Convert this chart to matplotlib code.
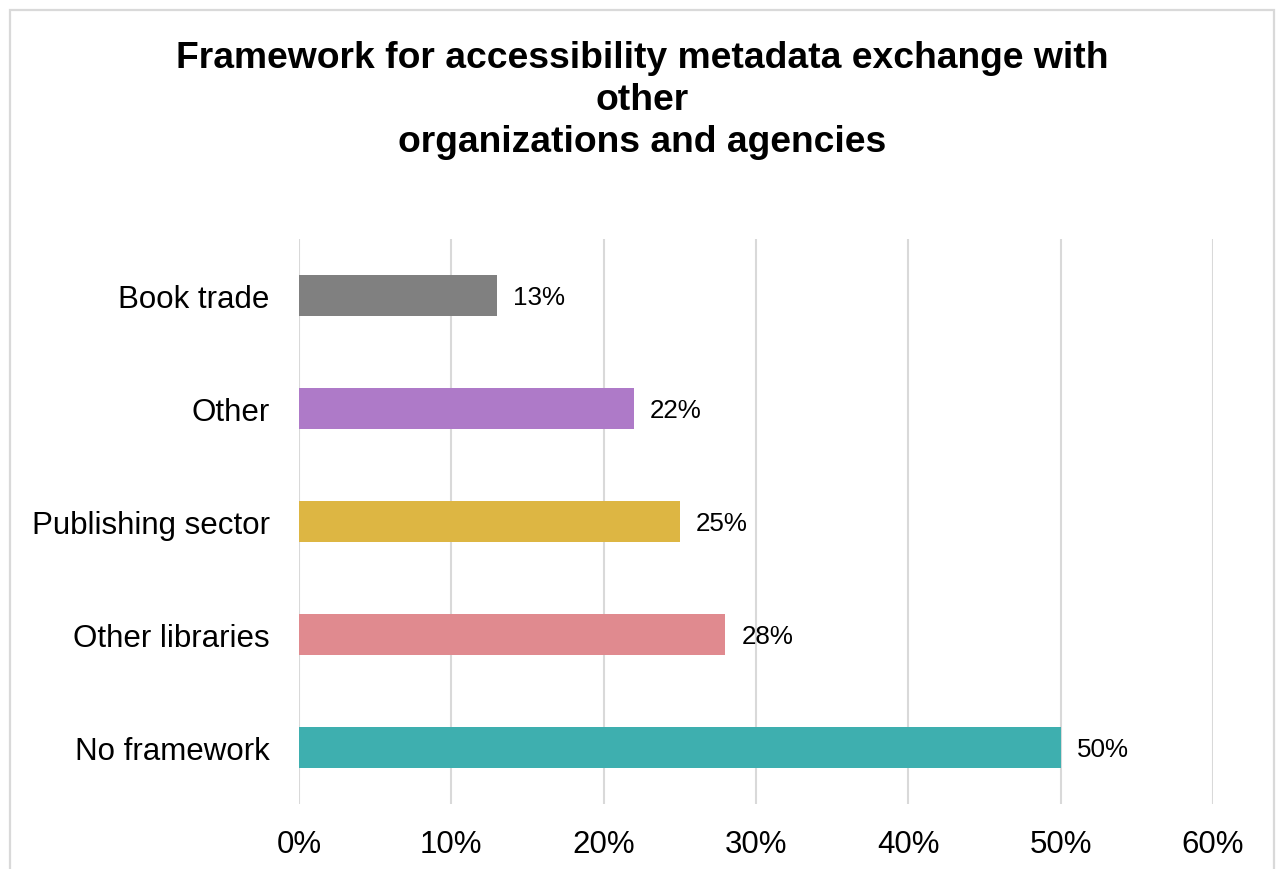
import matplotlib
matplotlib.use("Agg")
import matplotlib.pyplot as plt
from matplotlib.patches import Rectangle
from matplotlib.ticker import FuncFormatter

# ---- data ----
categories = ["No framework", "Other libraries", "Publishing sector", "Other", "Book trade"]
values = [50, 28, 25, 22, 13]
colors = ["#3EAFAF", "#E08A8F", "#DDB643", "#AE7AC8", "#808080"]
xticks = [0, 10, 20, 30, 40, 50, 60]

plt.rcParams["font.family"] = ["Liberation Sans", "DejaVu Sans"]

fig = plt.figure(figsize=(12.76, 8.7), dpi=100)
ax = fig.add_axes([0.2343, 0.0747, 0.7163, 0.6494])

# light frame round the whole chart (bottom edge runs off the canvas)
fig.patches.append(Rectangle((10 / 1276, -0.05), 1264 / 1276, 1 + 0.05 - 11 / 870,
                             transform=fig.transFigure, fill=False,
                             edgecolor="#d9d9d9", linewidth=1.6, zorder=0))

pos = list(range(len(categories)))
ax.barh(pos, values, height=0.37, color=colors, zorder=3)

for p, v in zip(pos, values):
    ax.text(v + 1.05, p - 0.015, f"{v}%", va="center", ha="left", fontsize=18.7, color="black")

ax.set_xlim(0, 60)
ax.set_ylim(-0.5, len(categories) - 0.5)
ax.set_yticks(pos)
ax.set_yticklabels(categories, fontsize=22.5)
ax.set_xticks(xticks)
ax.xaxis.set_major_formatter(FuncFormatter(lambda x, _: f"{x:.0f}%"))
ax.tick_params(axis="x", labelsize=22.5, length=0, pad=18)
ax.tick_params(axis="y", length=0, pad=21)

ax.grid(axis="x", color="#d9d9d9", linewidth=1.5, zorder=0)
for s in ax.spines.values():
    s.set_visible(False)

fig.text(0.503, 0.953, "Framework for accessibility metadata exchange with\nother\norganizations and agencies",
         ha="center", va="top", fontsize=26.8, fontweight="bold", linespacing=1.27)

fig.savefig("out.png", dpi=100)
